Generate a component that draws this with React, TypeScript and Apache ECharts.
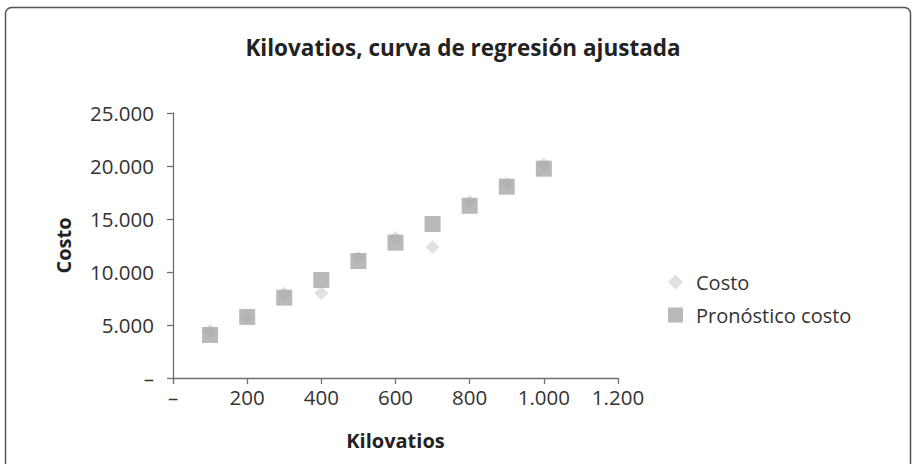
import React, { useEffect, useRef } from "react";
import * as echarts from "echarts";

const kilovatios = [100, 200, 300, 400, 500, 600, 700, 800, 900, 1000];
const costo = [4430, 5750, 7980, 7990, 11350, 13240, 12360, 16630, 18330, 20130];
const pronostico = [4060, 5760, 7580, 9250, 11040, 12770, 14530, 16250, 18050, 19750];

const FONT = "'Open Sans', 'Noto Sans', sans-serif";

const fmt = (v: number) => (v === 0 ? "–" : v.toLocaleString("de-DE"));

export default function App() {
  const ref = useRef<HTMLDivElement>(null);
  useEffect(() => {
    const chart = echarts.init(ref.current!, null, { renderer: "svg" });
    chart.setOption({
      animation: false,
      backgroundColor: "#ffffff",
      textStyle: { fontFamily: FONT },
      title: {
        text: "Kilovatios, curva de regresión ajustada",
        left: 458,
        textAlign: "center",
        top: 31,
        textStyle: { fontFamily: FONT, fontSize: 22.5, fontWeight: "bold", color: "#222" },
      },
      graphic: [
        {
          type: "rect",
          shape: { x: 5.5, y: 7.5, width: 905, height: 470, r: 6 },
          style: { fill: "none", stroke: "#555", lineWidth: 1.5 },
          silent: true,
        },
      ],
      legend: {
        orient: "vertical",
        left: 663,
        top: 267,
        itemWidth: 15,
        itemHeight: 15,
        itemGap: 13,
        textStyle: { fontFamily: FONT, fontSize: 20, color: "#333", lineHeight: 20, padding: [0, 0, 0, 8] },
        data: [
          { name: "Costo", icon: "diamond" },
          { name: "Pronóstico costo", icon: "rect" },
        ],
      },
      grid: { left: 173, right: 294, top: 113, bottom: 86, containLabel: false },
      xAxis: {
        type: "value",
        min: 0,
        max: 1200,
        interval: 200,
        name: "Kilovatios",
        nameLocation: "middle",
        nameGap: 52,
        nameTextStyle: { fontFamily: FONT, fontSize: 20, fontWeight: "bold", color: "#222" },
        axisLine: { show: true, onZero: false, lineStyle: { color: "#707070", width: 1.3 } },
        axisTick: { show: true, length: 6, lineStyle: { color: "#707070", width: 1.3 } },
        axisLabel: { margin: 8, fontSize: 20.5, color: "#333", formatter: fmt },
        splitLine: { show: false },
      },
      yAxis: {
        type: "value",
        min: 0,
        max: 25000,
        interval: 5000,
        name: "Costo",
        nameLocation: "middle",
        nameGap: 100,
        nameTextStyle: { fontFamily: FONT, fontSize: 20, fontWeight: "bold", color: "#222" },
        axisLine: { show: true, onZero: false, lineStyle: { color: "#707070", width: 1.3 } },
        axisTick: { show: true, length: 6, lineStyle: { color: "#707070", width: 1.3 } },
        axisLabel: { margin: 19, fontSize: 20.5, color: "#333", formatter: fmt },
        splitLine: { show: false },
      },
      series: [
        {
          name: "Costo",
          type: "scatter",
          symbol: "diamond",
          symbolSize: 14,
          itemStyle: { color: "#DADADA" },
          data: kilovatios.map((x, i) => [x, costo[i]]),
        },
        {
          name: "Pronóstico costo",
          type: "scatter",
          symbol: "rect",
          symbolSize: 16,
          itemStyle: { color: "#A6A7AA" },
          data: kilovatios.map((x, i) => [x, pronostico[i]]),
        },
      ],
    });
    return () => chart.dispose();
  }, []);
  return (
    <div
      ref={ref}
      style={{ position: "fixed", left: 0, top: 0, width: 912, height: 464 }}
    />
  );
}
